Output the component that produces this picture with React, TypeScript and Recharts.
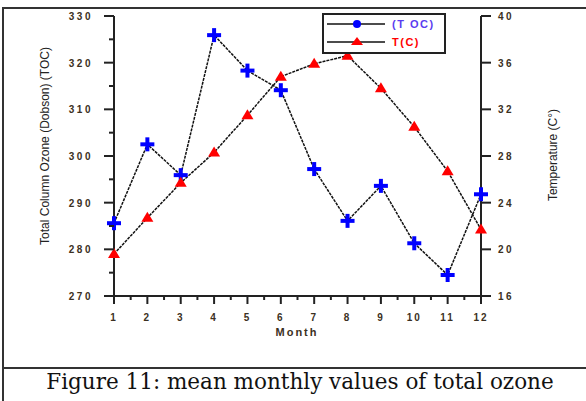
import React from "react";
import { LineChart, Line, XAxis, YAxis } from "recharts";

const months = [1, 2, 3, 4, 5, 6, 7, 8, 9, 10, 11, 12];
const tocValues = [285.6, 302.5, 295.9, 325.9, 318.3, 314.1, 297.2, 286.1, 293.6, 281.3, 274.5, 291.8];
const tempValues = [19.6, 22.7, 25.7, 28.3, 31.5, 34.8, 35.9, 36.6, 33.8, 30.5, 26.7, 21.7];

const monthTicks = [1, 1.5, 2, 2.5, 3, 3.5, 4, 4.5, 5, 5.5, 6, 6.5, 7, 7.5, 8, 8.5, 9, 9.5, 10, 10.5, 11, 11.5, 12];
const ozoneTicks = [270, 275, 280, 285, 290, 295, 300, 305, 310, 315, 320, 325, 330];
const tempTicks = [16, 20, 24, 28, 32, 36, 40];

const data = months.map((m, i) => ({ month: m, toc: tocValues[i], temp: tempValues[i] }));

const tickFont = { fontFamily: "Arial, 'Liberation Sans', sans-serif", fontSize: 10, fontWeight: 700 };
const tickColor = "#3b3022";

function MonthTick(props: any) {
  const { x, y, payload } = props;
  const v = payload.value;
  const major = Number.isInteger(v);
  return (
    <g>
      <line x1={x} x2={x} y1={y} y2={y + (major ? 8 : 4)} stroke="#222" strokeWidth={2} />
      {major && (
        <text x={x} y={y + 25} textAnchor="middle" fill={tickColor} style={tickFont} letterSpacing={2}>
          {v}
        </text>
      )}
    </g>
  );
}

function OzoneTick(props: any) {
  const { x, y, payload } = props;
  const v = payload.value;
  const major = v % 10 === 0;
  return (
    <g>
      <line x1={x - (major ? 10 : 5)} x2={x} y1={y} y2={y} stroke="#222" strokeWidth={2} />
      {major && (
        <text x={x - 21} y={y + 4} textAnchor="end" fill={tickColor} style={tickFont} letterSpacing={2.5}>
          {v}
        </text>
      )}
    </g>
  );
}

function TempTick(props: any) {
  const { x, y, payload } = props;
  return (
    <g>
      <line x1={x} x2={x + 10} y1={y} y2={y} stroke="#222" strokeWidth={2} />
      <text x={x + 17} y={y + 4} textAnchor="start" fill={tickColor} style={tickFont} letterSpacing={2.5}>
        {payload.value}
      </text>
    </g>
  );
}

function PlusDot(props: any) {
  const { cx, cy } = props;
  if (cx == null || cy == null) return null;
  return (
    <g>
      <line x1={cx - 7} x2={cx + 7} y1={cy} y2={cy} stroke="#0000ff" strokeWidth={4} />
      <line x1={cx} x2={cx} y1={cy - 7} y2={cy + 7} stroke="#0000ff" strokeWidth={4} />
    </g>
  );
}

function TriangleDot(props: any) {
  const { cx, cy } = props;
  if (cx == null || cy == null) return null;
  return <path d={`M${cx},${cy - 6} L${cx + 6},${cy + 4} L${cx - 6},${cy + 4} Z`} fill="#ff0000" />;
}

function LegendBox() {
  return (
    <svg width={124} height={41} style={{ display: "block" }}>
      <rect x={1} y={1} width={122} height={39} fill="#fff" stroke="#222" strokeWidth={2} />
      <line x1={5} x2={63} y1={11} y2={11} stroke="#111" strokeWidth={1.5} />
      <circle cx={35} cy={11} r={4} fill="#0000ff" />
      <text x={70} y={15} fill="#5a3cf0" style={{ ...tickFont, fontSize: 11 }} letterSpacing={1.5}>
        (T OC)
      </text>
      <line x1={5} x2={63} y1={29} y2={29} stroke="#111" strokeWidth={1.5} />
      <path d="M35,24 L41,32 L29,32 Z" fill="#ff0000" />
      <text x={70} y={33} fill="#ff0000" style={{ ...tickFont, fontSize: 11 }} letterSpacing={1.5}>
        T(C)
      </text>
    </svg>
  );
}

export default function App() {
  return (
    <div style={{ position: "absolute", left: 0, top: 0, width: 586, height: 401, background: "#fff", overflow: "hidden" }}>
      <div style={{ position: "absolute", left: 2, top: 7, width: 2, height: 394, background: "#333" }} />
      <div style={{ position: "absolute", left: 2, top: 7, width: 584, height: 2, background: "#333" }} />
      <div style={{ position: "absolute", left: 2, top: 367, width: 584, height: 2, background: "#333" }} />
      <div style={{ position: "absolute", left: 0, top: 0 }}>
        <LineChart width={586} height={401} data={data} margin={{ top: 16, right: 0, bottom: 65, left: 0 }}>
          <XAxis
            dataKey="month"
            type="number"
            domain={[1, 12]}
            ticks={monthTicks}
            interval={0}
            height={40}
            tickSize={0}
            tickMargin={0}
            tickLine={false}
            axisLine={{ stroke: "#222", strokeWidth: 2 }}
            tick={<MonthTick />}
            label={() => (
              <text x={297} y={336} textAnchor="middle" fill={tickColor} style={{ ...tickFont, fontSize: 11 }} letterSpacing={2}>
                Month
              </text>
            )}
          />
          <YAxis
            yAxisId="toc"
            orientation="left"
            domain={[270, 330]}
            ticks={ozoneTicks}
            interval={0}
            width={114}
            tickSize={0}
            tickMargin={0}
            tickLine={false}
            axisLine={{ stroke: "#222", strokeWidth: 2 }}
            tick={<OzoneTick />}
            label={() => (
              <text
                x={49}
                y={146}
                transform="rotate(-90 49 146)"
                textAnchor="middle"
                fill="#222"
                style={{ fontFamily: "Arial, 'Liberation Sans', sans-serif", fontSize: 12 }}
              >
                Total Column Ozone (Dobson) (TOC)
              </text>
            )}
          />
          <YAxis
            yAxisId="temp"
            orientation="right"
            domain={[16, 40]}
            ticks={tempTicks}
            interval={0}
            width={105}
            tickSize={0}
            tickMargin={0}
            tickLine={false}
            axisLine={{ stroke: "#222", strokeWidth: 2 }}
            tick={<TempTick />}
            label={() => (
              <text
                x={557}
                y={155}
                transform="rotate(-90 557 155)"
                textAnchor="middle"
                fill="#222"
                style={{ fontFamily: "Arial, 'Liberation Sans', sans-serif", fontSize: 12 }}
              >
                Temperature (C°)
              </text>
            )}
          />
          <Line
            yAxisId="toc"
            dataKey="toc"
            name="(TOC)"
            stroke="#111"
            strokeWidth={1.5}
            strokeDasharray="3 1"
            dot={<PlusDot />}
            activeDot={false}
            isAnimationActive={false}
          />
          <Line
            yAxisId="temp"
            dataKey="temp"
            name="T(C)"
            stroke="#111"
            strokeWidth={1.5}
            strokeDasharray="3 1"
            dot={<TriangleDot />}
            activeDot={false}
            isAnimationActive={false}
          />
        </LineChart>
      </div>
      <div style={{ position: "absolute", left: 322, top: 13 }}>
        <LegendBox />
      </div>
      <div
        style={{
          position: "absolute",
          left: 0,
          width: 600,
          top: 369,
          textAlign: "center",
          fontFamily: "'DejaVu Serif', serif",
          fontSize: 21.5,
          color: "#111",
        }}
      >
        Figure 11: mean monthly values of total ozone
      </div>
    </div>
  );
}
